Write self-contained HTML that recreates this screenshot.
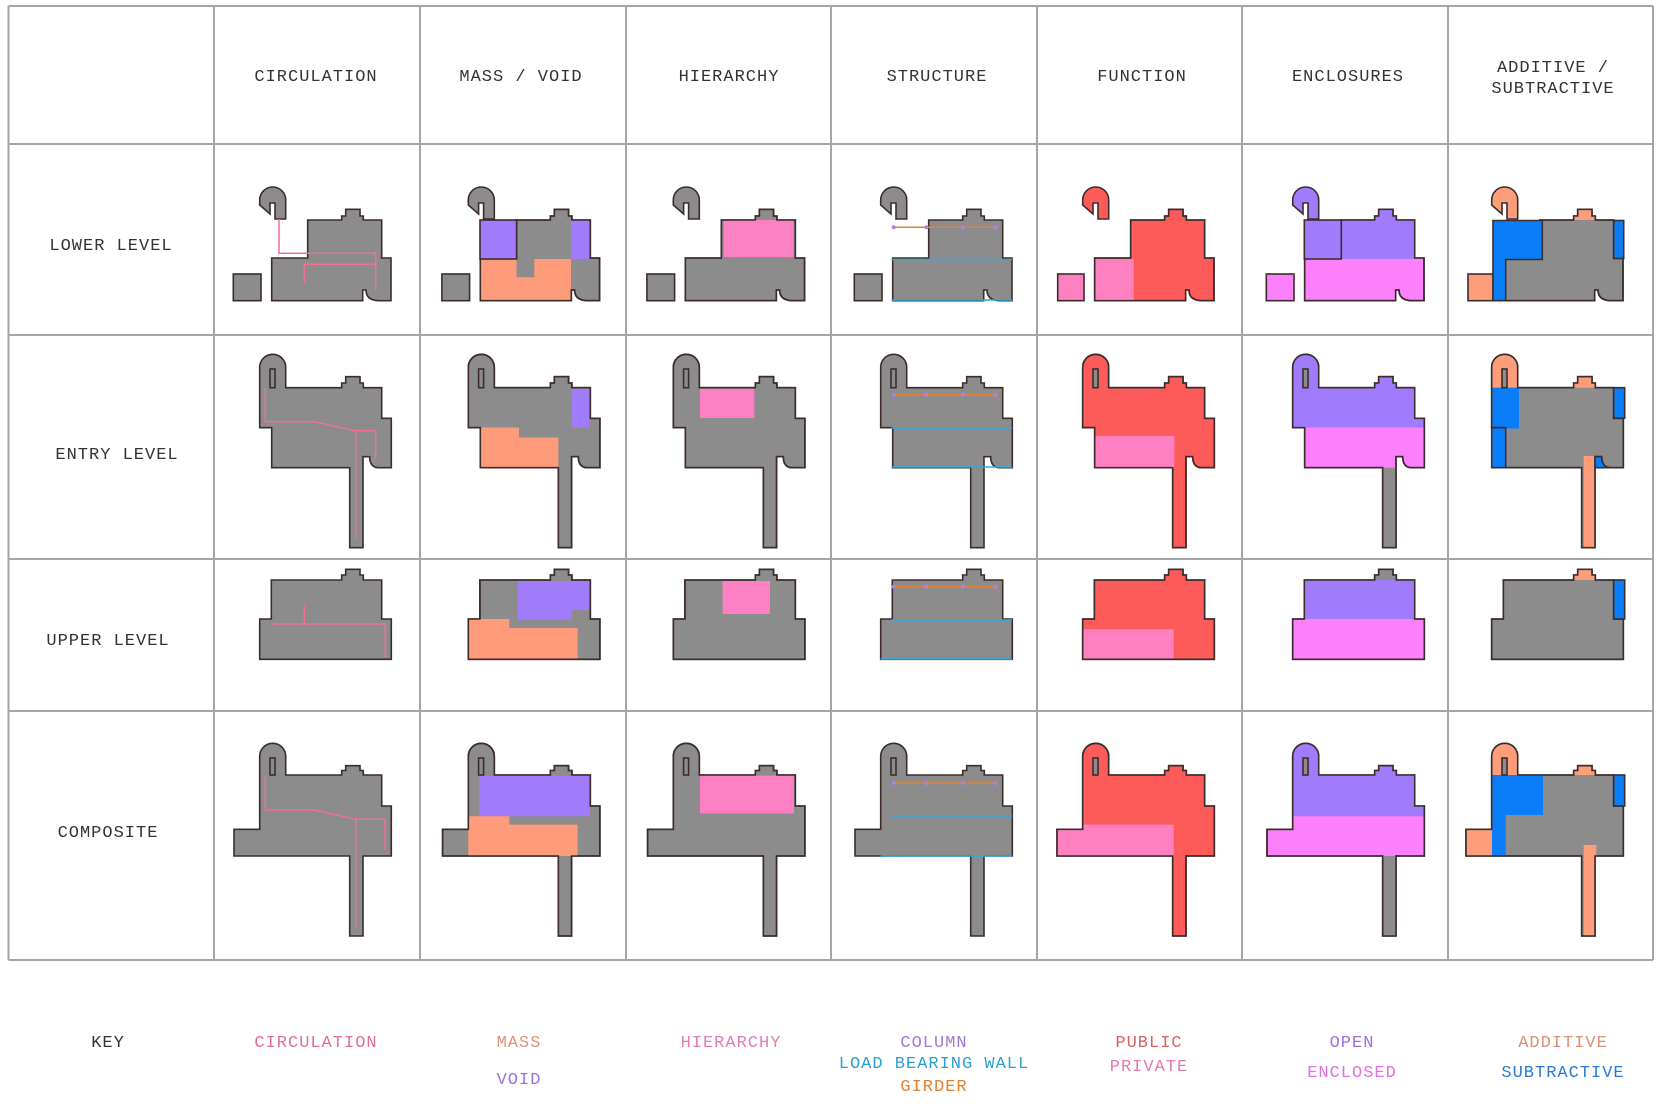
<!DOCTYPE html>
<html><head><meta charset="utf-8"><style>
html,body{margin:0;padding:0;background:#fff;}
svg{display:block;}
text{font-family:"Liberation Mono","DejaVu Sans Mono",monospace;font-size:17px;letter-spacing:1px;text-anchor:middle;}
</style></head><body>
<svg width="1661" height="1107" viewBox="0 0 1661 1107" xmlns="http://www.w3.org/2000/svg">
<defs>
<path id="LK" d="M285.7,219 L285.7,200 A13,13 0 1 0 259.7,200 L259.7,205 L270,214 L270,203 L275,203 L275,219 Z"/>
<path id="LM" d="M271.7,258 L307.7,258 L307.7,220 L341.7,220 L341.7,216 L345.7,216 L345.7,209.3 L360,209.3 L360,216 L363.3,216 L363.3,220 L381.7,220 L381.7,258 L391,258 L391,300.7 L378,300.7 Q366,300 366,290 L362.7,290 L362.7,300.7 L271.7,300.7 Z"/>
<path id="EM" d="M259.7,367.3 A13,13 0 0 1 285.7,367.3 L285.7,387.7 L341.7,387.7 L341.7,383 L345.7,383 L345.7,376.7 L360,376.7 L360,383 L363.3,383 L363.3,387.7 L381.7,387.7 L381.7,418.3 L391.3,418.3 L391.3,467.7 L378,467.7 Q369.7,467 369.7,456.7 L363,456.7 L363,547.7 L349.7,547.7 L349.7,467.7 L271.7,467.7 L271.7,427.7 L259.7,427.7 Z"/>
<path id="UM" d="M271.3,580 L341.7,580 L341.7,575 L345.7,575 L345.7,569.3 L360,569.3 L360,575 L363.3,575 L363.3,580 L381.7,580 L381.7,619 L391.3,619 L391.3,659.3 L259.7,659.3 L259.7,619 L271.3,619 Z"/>
<path id="CM" d="M259.7,756.3 A13,13 0 0 1 285.7,756.3 L285.7,775 L341.7,775 L341.7,770.5 L345.7,770.5 L345.7,765.7 L360,765.7 L360,770.5 L363.3,770.5 L363.3,775 L381.7,775 L381.7,806 L391.3,806 L391.3,856 L363,856 L363,936 L349.7,936 L349.7,856 L234,856 L234,829.3 L259.7,829.3 Z"/>
<clipPath id="cLK"><use href="#LK"/></clipPath>
<clipPath id="cLM"><use href="#LM"/></clipPath>
<clipPath id="cEM"><use href="#EM"/></clipPath>
<clipPath id="cUM"><use href="#UM"/></clipPath>
<clipPath id="cCM"><use href="#CM"/></clipPath>
</defs>

<!-- grid -->
<g stroke="#a6a6a6" stroke-width="2" fill="none">
<line x1="8.5" y1="6" x2="8.5" y2="960"/><line x1="214" y1="6" x2="214" y2="960"/><line x1="420" y1="6" x2="420" y2="960"/><line x1="626" y1="6" x2="626" y2="960"/><line x1="831" y1="6" x2="831" y2="960"/><line x1="1037" y1="6" x2="1037" y2="960"/><line x1="1242" y1="6" x2="1242" y2="960"/><line x1="1448" y1="6" x2="1448" y2="960"/><line x1="1653" y1="6" x2="1653" y2="960"/>
<line x1="8.5" y1="6" x2="1653" y2="6"/><line x1="8.5" y1="144" x2="1653" y2="144"/><line x1="8.5" y1="335" x2="1653" y2="335"/><line x1="8.5" y1="559" x2="1653" y2="559"/><line x1="8.5" y1="711" x2="1653" y2="711"/><line x1="8.5" y1="960" x2="1653" y2="960"/>
</g>

<!-- headers -->
<g fill="#333">
<text x="316" y="81">CIRCULATION</text>
<text x="521" y="81">MASS / VOID</text>
<text x="729" y="81">HIERARCHY</text>
<text x="937" y="81">STRUCTURE</text>
<text x="1142" y="81">FUNCTION</text>
<text x="1348" y="81">ENCLOSURES</text>
<text x="1553" y="72">ADDITIVE /</text>
<text x="1553" y="93">SUBTRACTIVE</text>
<text x="111" y="250">LOWER LEVEL</text>
<text x="117" y="459">ENTRY LEVEL</text>
<text x="108" y="645">UPPER LEVEL</text>
<text x="108" y="837">COMPOSITE</text>
</g>

<!-- key -->
<text x="108" y="1047" fill="#333">KEY</text>
<text x="316" y="1047" fill="#e07090">CIRCULATION</text>
<text x="519" y="1047" fill="#e0907a">MASS</text>
<text x="519" y="1084" fill="#9a70e0">VOID</text>
<text x="731" y="1047" fill="#e07cb8">HIERARCHY</text>
<text x="934" y="1047" fill="#a07ad0">COLUMN</text>
<text x="934" y="1068" fill="#2aa0d0">LOAD BEARING WALL</text>
<text x="934" y="1091" fill="#e08030">GIRDER</text>
<text x="1149" y="1047" fill="#d86060">PUBLIC</text>
<text x="1149" y="1071" fill="#e07ab0">PRIVATE</text>
<text x="1352" y="1047" fill="#9a70e0">OPEN</text>
<text x="1352" y="1077" fill="#e070e0">ENCLOSED</text>
<text x="1563" y="1047" fill="#d89078">ADDITIVE</text>
<text x="1563" y="1077" fill="#2a7ad0">SUBTRACTIVE</text>

<g stroke="#3c2c2c" stroke-width="1.6" stroke-linejoin="miter">

<!-- COL1 circulation -->
<g>
<use href="#LK" fill="#8c8c8c"/><use href="#LM" fill="#8c8c8c"/><rect x="233.3" y="274" width="27.7" height="26.7" fill="#8c8c8c"/>
<use href="#EM" fill="#8c8c8c"/><rect x="270" y="369" width="5" height="18.7" fill="#8c8c8c"/>
<use href="#UM" fill="#8c8c8c"/>
<use href="#CM" fill="#8c8c8c"/><rect x="270" y="758" width="5" height="17" fill="#8c8c8c"/>
<g stroke="#f07090" stroke-width="1.5" fill="none">
<path d="M279,219 L279,253.3 L375.7,253.3 L375.7,290.7 M304.3,283 L304.3,264.3 L375.7,264.3"/>
<path d="M265.3,388 L265.3,421.7 L314,421.7 L355.7,430.7 L375.7,430.7 L375.7,459 M355.7,430.7 L355.7,538"/>
<path d="M272,624 L385.3,624 L385.3,657 M304.3,606 L304.3,624"/>
<path d="M265.3,776 L265.3,810 L314,810 L355.7,819.3 L385,819.3 L385,850 M355.7,819.3 L355.7,928"/>
</g>
</g>

<!-- COL2 mass/void -->
<g transform="translate(208.6,0)">
<use href="#LK" fill="#8c8c8c"/><use href="#LM" fill="#8c8c8c"/><rect x="233.3" y="274" width="27.7" height="26.7" fill="#8c8c8c"/>
<g stroke="none">
<path clip-path="url(#cLM)" fill="#fd9b7b" d="M271.4,259 L308,259 L308,277.3 L325.7,277.3 L325.7,259 L362.4,259 L362.4,300.7 L271.4,300.7Z"/>
<rect clip-path="url(#cLM)" x="362.4" y="220" width="18.3" height="39" fill="#a07cfc"/>
</g>
<use href="#LM" fill="none"/>
<rect x="271.4" y="220" width="36.6" height="39" fill="#a07cfc"/>
<use href="#EM" fill="#8c8c8c"/>
<g stroke="none" clip-path="url(#cEM)">
<rect x="363" y="388.8" width="17.7" height="38.7" fill="#a07cfc"/>
<path fill="#fd9b7b" d="M271.4,427.5 L310.4,427.5 L310.4,437.5 L349.7,437.5 L349.7,467.7 L271.4,467.7 Z"/>
</g>
<use href="#EM" fill="none"/><rect x="270" y="369" width="5" height="18.7" fill="#8c8c8c"/>
<use href="#UM" fill="#8c8c8c"/>
<g stroke="none" clip-path="url(#cUM)">
<path fill="#a07cfc" d="M309,581 L380.7,581 L380.7,610 L363,610 L363,619.7 L309,619.7 Z"/>
<path fill="#fd9b7b" d="M259.7,619 L300.7,619 L300.7,628 L369,628 L369,659.3 L259.7,659.3Z"/>
</g>
<use href="#UM" fill="none"/>
<use href="#CM" fill="#8c8c8c"/>
<g stroke="none" clip-path="url(#cCM)">
<rect x="270.4" y="775.6" width="111" height="40.7" fill="#a07cfc"/>
<path fill="#fd9b7b" d="M259.7,816.3 L300.7,816.3 L300.7,824.6 L369,824.6 L369,856 L259.7,856 Z"/>
</g>
<use href="#CM" fill="none"/><rect x="270" y="758" width="5" height="17" fill="#8c8c8c"/>
</g>

<!-- COL3 hierarchy -->
<g transform="translate(413.6,0)">
<use href="#LK" fill="#8c8c8c"/><use href="#LM" fill="#8c8c8c"/><rect x="233.3" y="274" width="27.7" height="26.7" fill="#8c8c8c"/>
<rect clip-path="url(#cLM)" stroke="none" x="310" y="220" width="70" height="37" fill="#fe80c4"/>
<use href="#LM" fill="none"/>
<use href="#EM" fill="#8c8c8c"/>
<rect clip-path="url(#cEM)" stroke="none" x="286.4" y="388.8" width="54.3" height="29.2" fill="#fe80c4"/>
<use href="#EM" fill="none"/><rect x="270" y="369" width="5" height="18.7" fill="#8c8c8c"/>
<use href="#UM" fill="#8c8c8c"/>
<rect clip-path="url(#cUM)" stroke="none" x="309" y="581" width="47.4" height="33" fill="#fe80c4"/>
<use href="#UM" fill="none"/>
<use href="#CM" fill="#8c8c8c"/>
<rect clip-path="url(#cCM)" stroke="none" x="286.4" y="775.6" width="94" height="37.9" fill="#fe80c4"/>
<use href="#CM" fill="none"/><rect x="270" y="758" width="5" height="17" fill="#8c8c8c"/>
</g>

<!-- COL4 structure -->
<g transform="translate(621,0)">
<use href="#LK" fill="#8c8c8c"/><use href="#LM" fill="#8c8c8c"/><rect x="233.3" y="274" width="27.7" height="26.7" fill="#8c8c8c"/>
<use href="#EM" fill="#8c8c8c"/><rect x="270" y="369" width="5" height="18.7" fill="#8c8c8c"/>
<use href="#UM" fill="#8c8c8c"/>
<use href="#CM" fill="#8c8c8c"/><rect x="270" y="758" width="5" height="17" fill="#8c8c8c"/>
<g stroke-width="1.5" fill="none">
<g stroke="#e08030">
<line x1="272.7" y1="227.3" x2="374.4" y2="227.3"/>
<line x1="272.7" y1="394.8" x2="374.4" y2="394.8"/>
<line x1="272.7" y1="586.8" x2="374.4" y2="586.8"/>
<line x1="272.7" y1="783" x2="374.4" y2="783"/>
</g>
<g stroke="#30a8e0">
<line x1="270.4" y1="259.5" x2="391" y2="259.5"/><line x1="270.4" y1="300" x2="391" y2="300"/>
<line x1="270.4" y1="428" x2="391" y2="428"/><line x1="270.4" y1="467" x2="391" y2="467"/>
<line x1="270.4" y1="620" x2="391" y2="620"/><line x1="259.7" y1="659" x2="391" y2="659"/>
<line x1="270.4" y1="816" x2="391" y2="816"/><line x1="259.7" y1="856" x2="391" y2="856"/>
</g>
</g>
<g fill="#b080e0" stroke="none">
<circle cx="272.7" cy="227.3" r="2"/><circle cx="305.4" cy="227.3" r="2"/><circle cx="342" cy="227.3" r="2"/><circle cx="374.4" cy="227.3" r="2"/>
<circle cx="272.7" cy="394.8" r="2"/><circle cx="305.4" cy="394.8" r="2"/><circle cx="342" cy="394.8" r="2"/><circle cx="374.4" cy="394.8" r="2"/>
<circle cx="272.7" cy="586.8" r="2"/><circle cx="305.4" cy="586.8" r="2"/><circle cx="342" cy="586.8" r="2"/><circle cx="374.4" cy="586.8" r="2"/>
<circle cx="272.7" cy="783" r="2"/><circle cx="305.4" cy="783" r="2"/><circle cx="342" cy="783" r="2"/><circle cx="374.4" cy="783" r="2"/>
</g>
</g>

<!-- COL5 function -->
<g transform="translate(823,0)">
<use href="#LK" fill="#fd5a5a"/><use href="#LM" fill="#fd5a5a"/><rect x="234.7" y="274" width="26.3" height="26.7" fill="#fe80c0"/>
<rect clip-path="url(#cLM)" stroke="none" x="272.3" y="259" width="38.4" height="41.7" fill="#fe80c0"/>
<use href="#LM" fill="none"/>
<use href="#EM" fill="#fd5a5a"/>
<rect clip-path="url(#cEM)" stroke="none" x="272.3" y="435.9" width="79" height="31.8" fill="#fe80c0"/>
<use href="#EM" fill="none"/><rect x="270" y="369" width="5" height="18.7" fill="#8c8c8c"/>
<use href="#UM" fill="#fd5a5a"/>
<rect clip-path="url(#cUM)" stroke="none" x="259.7" y="629.3" width="91" height="30" fill="#fe80c0"/>
<use href="#UM" fill="none"/>
<use href="#CM" fill="#fd5a5a"/>
<rect clip-path="url(#cCM)" stroke="none" x="234" y="824.6" width="116.7" height="31.4" fill="#fe80c0"/>
<use href="#CM" fill="none"/><rect x="270" y="758" width="5" height="17" fill="#8c8c8c"/>
</g>

<!-- COL6 enclosures -->
<g transform="translate(1033,0)">
<use href="#LK" fill="#a07cfc"/><rect x="233.3" y="274" width="27.7" height="26.7" fill="#fc80fc"/>
<use href="#LM" fill="#fc80fc"/>
<rect clip-path="url(#cLM)" stroke="none" x="300" y="200" width="100" height="59" fill="#a07cfc"/>
<use href="#LM" fill="none"/>
<rect x="271.3" y="220" width="37" height="39" fill="#a07cfc"/>
<use href="#EM" fill="#fc80fc"/>
<g stroke="none" clip-path="url(#cEM)">
<rect x="250" y="340" width="150" height="87.5" fill="#a07cfc"/>
<rect x="349.7" y="467.7" width="13.3" height="80" fill="#8c8c8c"/>
</g>
<use href="#EM" fill="none"/><rect x="270" y="369" width="5" height="18.7" fill="#8c8c8c"/>
<use href="#UM" fill="#fc80fc"/>
<g stroke="none" clip-path="url(#cUM)">
<rect x="250" y="560" width="150" height="59" fill="#a07cfc"/>
<rect x="340" y="565" width="25" height="15" fill="#8c8c8c"/>
</g>
<use href="#UM" fill="none"/>
<use href="#CM" fill="#fc80fc"/>
<g stroke="none" clip-path="url(#cCM)">
<rect x="250" y="740" width="150" height="76.3" fill="#a07cfc"/>
<rect x="349.7" y="856" width="13.3" height="80" fill="#8c8c8c"/>
</g>
<use href="#CM" fill="none"/><rect x="270" y="758" width="5" height="17" fill="#8c8c8c"/>
</g>

<!-- COL7 additive / subtractive -->
<g transform="translate(1232,0)">
<use href="#LK" fill="#fd9d7a"/><rect x="236" y="274" width="25" height="26.7" fill="#fd9d7a"/>
<use href="#LM" fill="#8c8c8c"/>
<rect clip-path="url(#cLM)" stroke="none" x="340" y="205" width="25" height="15" fill="#fd9d7a"/>
<use href="#LM" fill="none"/>
<path fill="#0a7ef8" d="M261,220.5 L310.3,220.5 L310.3,259.5 L273.7,259.5 L273.7,300.7 L261,300.7 Z"/>
<rect x="381.7" y="220.5" width="10" height="38" fill="#0a7ef8"/>
<use href="#EM" fill="#8c8c8c"/>
<g stroke="none" clip-path="url(#cEM)">
<rect x="255" y="345" width="35" height="42.7" fill="#fd9d7a"/>
<rect x="340" y="372" width="25" height="15.7" fill="#fd9d7a"/>
<rect x="259.7" y="387.7" width="27.3" height="40.9" fill="#0a7ef8"/>
<rect x="259.7" y="427" width="14" height="41" fill="#0a7ef8"/>
<rect x="351.7" y="456" width="12.6" height="92" fill="#fd9d7a"/>
</g>
<use href="#EM" fill="none"/><rect x="270" y="369" width="5" height="18.7" fill="#8c8c8c"/>
<rect x="259.7" y="427.7" width="14" height="40" fill="#0a7ef8"/>
<rect x="381.7" y="387.7" width="11" height="30.5" fill="#0a7ef8"/>
<path fill="#0a7ef8" d="M363,456.7 L369.7,456.7 Q369.7,467 378,467.7 L363,467.7Z"/>
<use href="#UM" fill="#8c8c8c"/>
<rect clip-path="url(#cUM)" stroke="none" x="340" y="565" width="25" height="15" fill="#fd9d7a"/>
<use href="#UM" fill="none"/>
<rect x="381.7" y="580" width="11" height="39" fill="#0a7ef8"/>
<use href="#CM" fill="#8c8c8c"/>
<g stroke="none" clip-path="url(#cCM)">
<rect x="255" y="740" width="35" height="35" fill="#fd9d7a"/>
<rect x="340" y="760" width="25" height="15" fill="#fd9d7a"/>
<path fill="#0a7ef8" d="M259.7,775 L311,775 L311,815 L273.7,815 L273.7,856 L259.7,856 Z"/>
<rect x="234" y="829" width="26" height="27" fill="#fd9d7a"/>
<rect x="351.7" y="845" width="12.6" height="91" fill="#fd9d7a"/>
</g>
<use href="#CM" fill="none"/><rect x="270" y="758" width="5" height="17" fill="#8c8c8c"/>
<rect x="381.7" y="775" width="11" height="31" fill="#0a7ef8"/>
</g>

</g>
</svg>
</body></html>
